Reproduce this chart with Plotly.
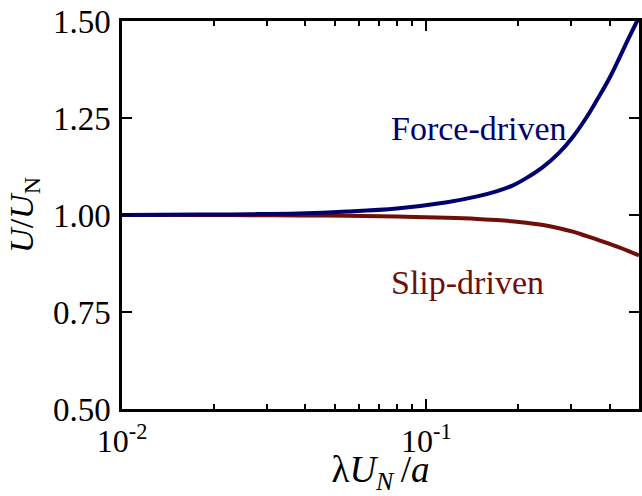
import numpy as np
import plotly.graph_objects as go

# Data
x_vals = [0.010, 0.018, 0.026, 0.038, 0.055, 0.080, 0.117, 0.147, 0.170, 0.191, 0.213,
          0.242, 0.273, 0.303, 0.335, 0.366, 0.398, 0.428, 0.462, 0.500]
force_driven = [1.000, 1.001, 1.002, 1.004, 1.009, 1.017, 1.033, 1.048, 1.061, 1.075, 1.095,
                1.124, 1.160, 1.201, 1.250, 1.300, 1.350, 1.400, 1.455, 1.510]
slip_driven = [1.000, 1.000, 0.9995, 0.999, 0.998, 0.996, 0.993, 0.990, 0.987, 0.984, 0.980,
               0.974, 0.966, 0.957, 0.946, 0.936, 0.926, 0.917, 0.907, 0.896]

y_ticks = [0.50, 0.75, 1.00, 1.25, 1.50]
y_ticklabels = ["0.50", "0.75", "1.00", "1.25", "1.50"]
x_ticks = [0.01, 0.1]
x_ticklabels = ["10<sup>-2</sup>", "10<sup>-1</sup>"]
x_minor = [0.02, 0.03, 0.04, 0.05, 0.06, 0.07, 0.08, 0.09, 0.2, 0.3, 0.4]

FORCE_COLOR = "#00006e"
SLIP_COLOR = "#6e0f0a"
FONT = "Liberation Serif, Times New Roman, serif"

fig = go.Figure()
fig.add_trace(go.Scatter(x=x_vals, y=slip_driven, mode="lines",
                         line=dict(color=SLIP_COLOR, width=4, shape="spline"),
                         showlegend=False, cliponaxis=True))
fig.add_trace(go.Scatter(x=x_vals, y=force_driven, mode="lines",
                         line=dict(color=FORCE_COLOR, width=4, shape="spline"),
                         showlegend=False, cliponaxis=True))

fig.add_annotation(text="Force-driven", xref="paper", yref="paper", x=0.69, y=0.724,
                   xanchor="center", yanchor="middle",
                   showarrow=False, font=dict(family=FONT, size=34, color=FORCE_COLOR))
fig.add_annotation(text="Slip-driven", xref="paper", yref="paper", x=0.669, y=0.325,
                   xanchor="center", yanchor="middle",
                   showarrow=False, font=dict(family=FONT, size=34, color=SLIP_COLOR))

fig.update_xaxes(type="log", range=[-2, np.log10(0.5)],
                 tickmode="array", tickvals=x_ticks, ticktext=x_ticklabels,
                 ticks="inside", ticklen=10, tickwidth=1.5, tickcolor="black",
                 minor=dict(tickmode="array", tickvals=x_minor, ticks="inside",
                            ticklen=5, tickwidth=1.5, tickcolor="black", showgrid=False),
                 showline=True, linewidth=2.5, linecolor="black", mirror="ticks",
                 showgrid=False, zeroline=False, ticklabelstandoff=2,
                 tickfont=dict(family=FONT, size=32, color="black"),
                 title=dict(text="λ<i>U</i><sub><i>N</i></sub>\u2009/<i>a</i>", standoff=4,
                            font=dict(family=FONT, size=37, color="black")))
fig.update_yaxes(range=[0.5, 1.5], tickmode="array", tickvals=y_ticks, ticktext=y_ticklabels,
                 ticks="inside", ticklen=10, tickwidth=1.5, tickcolor="black",
                 showline=True, linewidth=2.5, linecolor="black", mirror="ticks",
                 showgrid=False, zeroline=False, ticklabelstandoff=2,
                 tickfont=dict(family=FONT, size=33, color="black"),
                 title=dict(text="<i>U</i>/<i>U</i><sub>N</sub>", standoff=10,
                            font=dict(family=FONT, size=34, color="black")))

fig.update_layout(width=642, height=496, margin=dict(l=122, r=0, t=21, b=87),
                  plot_bgcolor="white", paper_bgcolor="white")

fig.write_html("out.html", config={"displayModeBar": False},
               post_script="document.body.style.margin='0';document.body.style.overflow='hidden';")
